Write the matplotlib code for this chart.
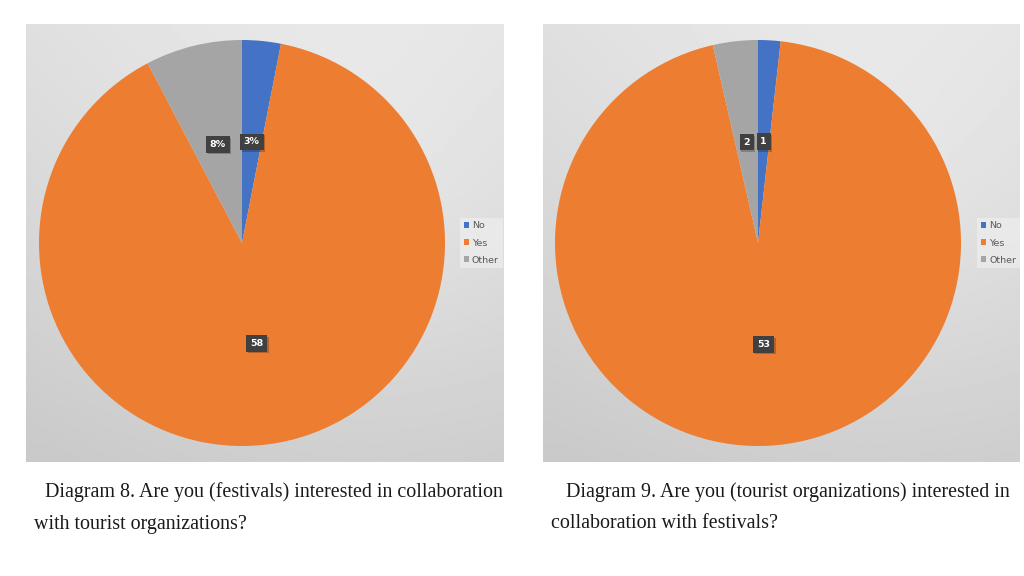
import numpy as np
import matplotlib.pyplot as plt
import matplotlib.patheffects as pe

# ----------------- datos -----------------
categorias = ['No', 'Yes', 'Other']
colores = ['#4472C4', '#ED7D31', '#A5A5A5']

valores_8 = [2, 58, 5]
etiquetas_8 = ['3%', '58', '8%']
titulo_8 = ['Diagram 8. Are you (festivals) interested in collaboration',
            'with tourist organizations?']

valores_9 = [1, 53, 2]
etiquetas_9 = ['1', '53', '2']
titulo_9 = ['Diagram 9. Are you (tourist organizations) interested in',
            'collaboration with festivals?']

W, H = 1024, 576
fig = plt.figure(figsize=(W / 100, H / 100), dpi=100)
fig.patch.set_facecolor('white')


def px(x0, y0, w, h):
    # caja en pixeles (origen arriba a la izquierda) -> fraccion de figura
    return [x0 / W, 1 - (y0 + h) / H, w / W, h / H]


def fondo(x0, y0, w, h):
    ax = fig.add_axes(px(x0, y0, w, h))
    yy, xx = np.mgrid[0:1:200j, 0:1:200j]
    d = np.sqrt(((xx - 0.7) * 1.2) ** 2 + ((yy - 0.35) * 1.0) ** 2)
    g = 0.93 - 0.08 * yy - 0.06 * np.clip(d, 0, 1)
    ax.imshow(g, cmap='gray', vmin=0, vmax=1,
              extent=[0, 1, 0, 1], aspect='auto', origin='upper')
    ax.set_axis_off()
    return ax


def torta(cx, cy, r, valores, etiquetas, leg_xy):
    ax = fig.add_axes(px(cx - r, cy - r, 2 * r, 2 * r))
    ax.set_facecolor('none')
    wedges, _, autot = ax.pie(valores, colors=colores, startangle=90,
                              counterclock=False, radius=1,
                              autopct='%1.0f', pctdistance=0.5,
                              wedgeprops=dict(linewidth=0))
    for t, lab in zip(autot, etiquetas):
        t.set_text(lab)
        t.set_color('white')
        t.set_fontsize(6.8)
        t.set_fontweight('bold')
        t.set_bbox(dict(boxstyle='square,pad=0.4', facecolor='#404040',
                        edgecolor='none'))
        t.get_bbox_patch().set_path_effects(
            [pe.SimplePatchShadow(offset=(1.2, -1.2), alpha=0.25), pe.Normal()])
    ax.set_xlim(-1, 1)
    ax.set_ylim(-1, 1)
    ax.set_aspect('equal')
    leg = fig.legend(wedges, categorias, loc='center left',
                     bbox_to_anchor=(leg_xy[0] / W, 1 - leg_xy[1] / H),
                     fontsize=6.8, handlelength=0.55, handleheight=0.55,
                     handletextpad=0.35, labelspacing=0.85,
                     frameon=True, fancybox=False, borderpad=0.4)
    leg.get_frame().set_facecolor('#f4f4f4')
    leg.get_frame().set_alpha(0.5)
    leg.get_frame().set_linewidth(0)
    for t in leg.get_texts():
        t.set_color('#595959')


fondo(26, 24, 478, 438)
fondo(543, 24, 477, 438)
torta(242, 243, 203, valores_8, etiquetas_8, (455, 243))
torta(758, 243, 203, valores_9, etiquetas_9, (972, 243))

serif = 'Liberation Serif'
tam = 14.4
fig.text(45 / W, 1 - 492 / H, titulo_8[0], family=serif, fontsize=tam,
         va='center', ha='left', color='#1a1a1a')
fig.text(34 / W, 1 - 524 / H, titulo_8[1], family=serif, fontsize=tam,
         va='center', ha='left', color='#1a1a1a')
fig.text(566 / W, 1 - 492 / H, titulo_9[0], family=serif, fontsize=tam,
         va='center', ha='left', color='#1a1a1a')
fig.text(551 / W, 1 - 524 / H, titulo_9[1], family=serif, fontsize=tam,
         va='center', ha='left', color='#1a1a1a')

fig.savefig('out.png', dpi=100)
plt.close()
